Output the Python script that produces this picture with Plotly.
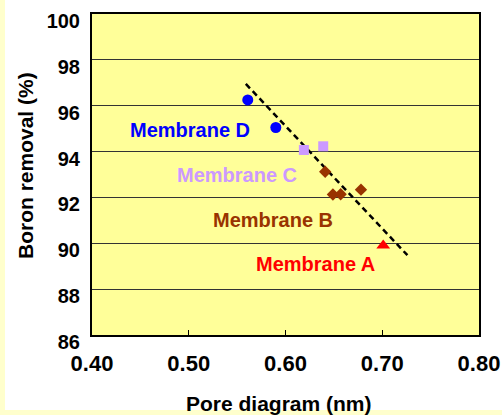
import plotly.graph_objects as go

# Data
d_x = [0.561, 0.590]
d_y = [96.25, 95.05]
c_x = [0.619, 0.639]
c_y = [94.07, 94.23]
b_x = [0.641, 0.649, 0.657, 0.678]
b_y = [93.12, 92.13, 92.14, 92.34]
a_x = [0.701]
a_y = [89.90]
trend_x = [0.559, 0.726]
trend_y = [96.95, 89.48]

x_ticks = [0.40, 0.50, 0.60, 0.70, 0.80]
y_ticks = [86, 88, 90, 92, 94, 96, 98, 100]

labels = ["Membrane D", "Membrane C", "Membrane B", "Membrane A"]
label_x = [0.501, 0.550, 0.587, 0.631]
label_y = [94.96, 92.96, 91.02, 89.10]
colors = ["#0000FF", "#CC99FF", "#993300", "#FF0000"]

FONT = "Liberation Sans, Arial, sans-serif"

fig = go.Figure()
fig.add_trace(go.Scatter(x=trend_x, y=trend_y, mode="lines",
                         line=dict(color="black", width=2.5, dash="6px,4px"),
                         showlegend=False, hoverinfo="skip"))
fig.add_trace(go.Scatter(x=d_x, y=d_y, mode="markers",
                         marker=dict(symbol="circle", size=11, color=colors[0]),
                         showlegend=False))
fig.add_trace(go.Scatter(x=c_x, y=c_y, mode="markers",
                         marker=dict(symbol="square", size=10, color=colors[1]),
                         showlegend=False))
fig.add_trace(go.Scatter(x=b_x, y=b_y, mode="markers",
                         marker=dict(symbol="diamond", size=9.5, color=colors[2]),
                         showlegend=False))
fig.add_trace(go.Scatter(x=a_x, y=a_y, mode="markers",
                         marker=dict(symbol="triangle-up", size=12, color=colors[3]),
                         showlegend=False))

for t, lx, ly, c in zip(labels, label_x, label_y, colors):
    fig.add_annotation(x=lx, y=ly, text=t, showarrow=False,
                       font=dict(family=FONT, size=20, color=c, weight=700),
                       xanchor="center", yanchor="middle")

W, H = 502, 415
ML, MR, MT, MB = 92, 23, 14, 80
PW, PH = W - ML - MR, H - MT - MB

def px(xp):
    return (xp - ML) / PW

def py(yp):
    return (H - MB - yp) / PH

strip = "#FFFFCC"
fig.add_shape(type="rect", xref="paper", yref="paper",
              x0=px(0), x1=px(5), y0=py(H), y1=py(0),
              fillcolor=strip, line=dict(width=0), layer="below")
fig.add_shape(type="rect", xref="paper", yref="paper",
              x0=px(5), x1=px(W), y0=py(H), y1=py(410),
              fillcolor=strip, line=dict(width=0), layer="below")

# axis titles
fig.add_annotation(xref="paper", yref="paper", x=px(279), y=py(403),
                   text="Pore diagram (nm)", showarrow=False,
                   font=dict(family=FONT, size=21, color="black", weight=700),
                   xanchor="center", yanchor="middle")
fig.add_annotation(xref="paper", yref="paper", x=px(25), y=py(166),
                   text="Boron removal (%)", showarrow=False, textangle=-90,
                   font=dict(family=FONT, size=21, color="black", weight=700),
                   xanchor="center", yanchor="middle")

fig.update_layout(
    width=W, height=H,
    margin=dict(l=ML, r=MR, t=MT, b=MB, pad=0, autoexpand=False),
    paper_bgcolor="white",
    plot_bgcolor="#FFFF99",
    showlegend=False,
    font=dict(family=FONT, color="black"),
)
fig.update_xaxes(range=[0.40, 0.80], tickvals=x_ticks,
                 ticktext=[f"{v:.2f}" for v in x_ticks],
                 showgrid=False, zeroline=False, automargin=False,
                 showline=True, linecolor="black", linewidth=2, mirror=True,
                 ticks="inside", ticklen=5, tickcolor="black", tickwidth=1,
                 tickfont=dict(family=FONT, size=22, color="black", weight=700),
                 ticklabelstandoff=8, ticklabeloverflow="allow")
fig.update_yaxes(range=[86, 100], tickvals=y_ticks, automargin=False,
                 showgrid=True, gridcolor="#333333", gridwidth=1, zeroline=False,
                 showline=True, linecolor="black", linewidth=2, mirror=True,
                 ticks="",
                 tickfont=dict(family=FONT, size=20, color="black", weight=700),
                 ticklabelstandoff=6, ticklabelshift=7, ticklabeloverflow="allow")

fig.write_html("out.html", config={"displayModeBar": False},
               post_script="document.body.style.margin='0';document.body.style.padding='0';")
